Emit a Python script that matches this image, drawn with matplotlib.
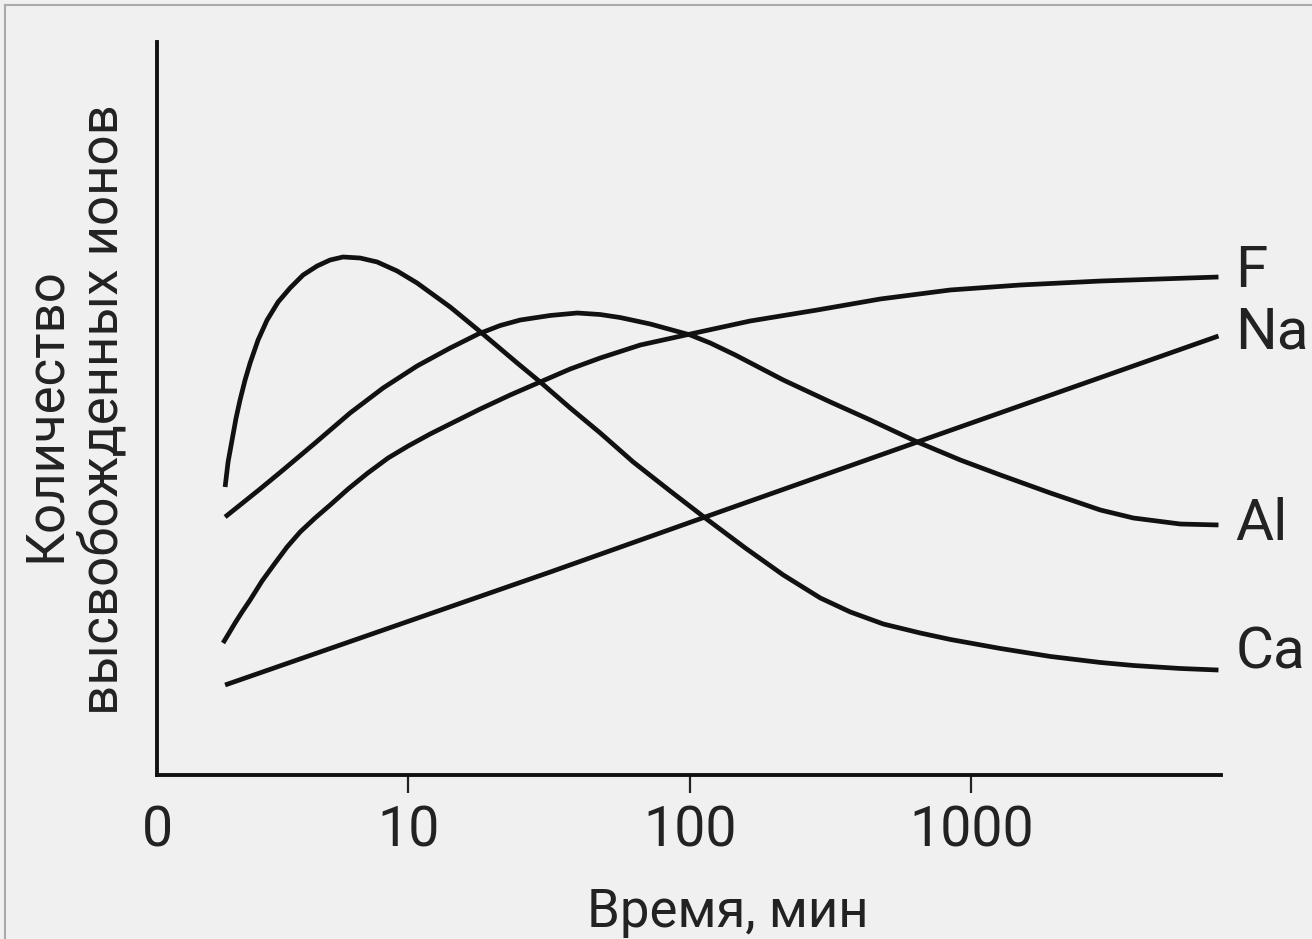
import matplotlib
matplotlib.use('Agg')
import matplotlib.pyplot as plt
from matplotlib.lines import Line2D

plt.rcParams['font.family'] = ['Liberation Sans Narrow', 'Roboto', 'DejaVu Sans']

# время, мин (ось в логарифмическом масштабе); количество ионов - условные единицы
t_ca = [2.239, 2.294, 2.370, 2.449, 2.530, 2.636, 2.747, 2.932, 3.156, 3.454, 3.809,
        4.236, 4.750, 5.284, 5.876, 6.752, 7.762, 9.141, 10.76, 14.10, 17.73, 24.39,
        29.44, 37.63, 48.10, 63.00, 85.24, 113.5, 157.5, 214.8, 290.8, 371.7, 486.9,
        659.0, 842.2, 1268, 1909, 2873, 3763, 5527, 7543]
ca = [39.29, 42.70, 45.70, 48.70, 51.16, 53.89, 56.21, 59.35, 62.07, 64.53, 66.44,
      68.21, 69.44, 70.26, 70.67, 70.53, 69.99, 68.76, 67.12, 63.85, 60.71, 56.21,
      53.62, 50.07, 46.66, 42.70, 38.74, 35.06, 30.97, 27.29, 24.15, 22.24, 20.60,
      19.37, 18.49, 17.26, 16.17, 15.35, 14.94, 14.53, 14.32]

t_al = [2.239, 2.530, 2.980, 3.597, 4.673, 6.223, 8.152, 10.76, 14.10, 17.73, 21.22,
        25.00, 31.95, 39.85, 48.10, 56.63, 72.38, 100.4, 118.2, 145.1, 214.8, 315.6,
        437.8, 643.1, 914.2, 1268, 1909, 2873, 3763, 5527, 7543]
al = [35.20, 36.83, 39.02, 41.61, 45.29, 49.39, 52.80, 55.80, 58.25, 60.16, 61.32,
      62.07, 62.69, 63.03, 62.82, 62.41, 61.53, 60.03, 58.94, 57.30, 53.89, 50.89,
      48.43, 45.43, 42.97, 40.93, 38.47, 36.15, 35.06, 34.24, 34.11]

t_f = [2.202, 2.313, 2.429, 2.572, 2.747, 3.029, 3.370, 3.717, 4.134, 4.673, 5.284,
       6.122, 7.152, 8.492, 10.0, 11.97, 14.10, 18.03, 23.03, 29.44, 37.63, 48.10,
       66.72, 100.4, 164.0, 283.8, 475.1, 842.2, 1493, 2873, 4693, 7543]
f = [18.01, 19.37, 20.74, 22.24, 23.87, 26.47, 28.92, 31.11, 33.15, 35.06, 36.83,
     39.02, 41.13, 43.25, 44.88, 46.52, 47.89, 49.93, 51.84, 53.62, 55.39, 56.89,
     58.66, 60.16, 61.94, 63.44, 64.94, 66.17, 66.85, 67.39, 67.67, 67.94]

t_na = [2.239, 31.95, 113.5, 643.1, 7543]
na = [12.28, 27.69, 35.20, 45.43, 59.89]

# подпись, время, значения, сдвиг подписи по вертикали (pt)
series = [('F', t_f, f, 4), ('Na', t_na, na, 2), ('Al', t_al, al, 0), ('Ca', t_ca, ca, 12)]

tick_pos = [1.283, 10, 100, 1000]
tick_lab = ['0', '10', '100', '1000']

bg = '#f0f0f0'
fig = plt.figure(figsize=(13.12, 9.39), dpi=100, facecolor=bg)
ax = fig.add_axes([157 / 1312, 1 - 775 / 939, (1221 - 157) / 1312, (775 - 42) / 939])
ax.set_facecolor(bg)

for name, t, v, dy in series:
    ax.plot(t, v, color='#111111', lw=3.4, solid_capstyle='butt', solid_joinstyle='round')
    ax.annotate(name, xy=(t[-1], v[-1]), xytext=(12, dy), textcoords='offset points',
                va='center', ha='left', fontsize=42, color='#222222')

ax.set_xscale('log')
ax.set_xlim(1.283, 7700)
ax.set_ylim(0, 100)
ax.minorticks_off()
ax.set_xticks(tick_pos)
ax.set_xticklabels(tick_lab, fontsize=40, color='#222222')
ax.set_yticks([])
ax.tick_params(axis='x', direction='out', length=13, width=1.6, pad=8, color='#222222')
ax.xaxis.get_major_ticks()[0].tick1line.set_visible(False)

for s in ['top', 'right']:
    ax.spines[s].set_visible(False)
for s in ['left', 'bottom']:
    ax.spines[s].set_linewidth(2.8)
    ax.spines[s].set_color('#111111')

fig.text(728 / 1312, 1 - 913 / 939, 'Время, мин', ha='center', va='center',
         fontsize=38, color='#222222')
fig.text(45 / 1312, 1 - 415 / 939, 'Количество', ha='center', va='center',
         rotation=90, fontsize=38, color='#222222')
fig.text(103 / 1312, 1 - 410 / 939, 'высвобожденных ионов', ha='center', va='center',
         rotation=90, fontsize=38, color='#222222')

# рамка скана
fig.add_artist(Line2D([5 / 1312, 5 / 1312], [0, 1 - 5 / 939], transform=fig.transFigure,
                      color='#aaaaaa', lw=1.5))
fig.add_artist(Line2D([5 / 1312, 1], [1 - 5 / 939, 1 - 5 / 939], transform=fig.transFigure,
                      color='#aaaaaa', lw=1.5))

fig.savefig('out.png', dpi=100, facecolor=bg)
